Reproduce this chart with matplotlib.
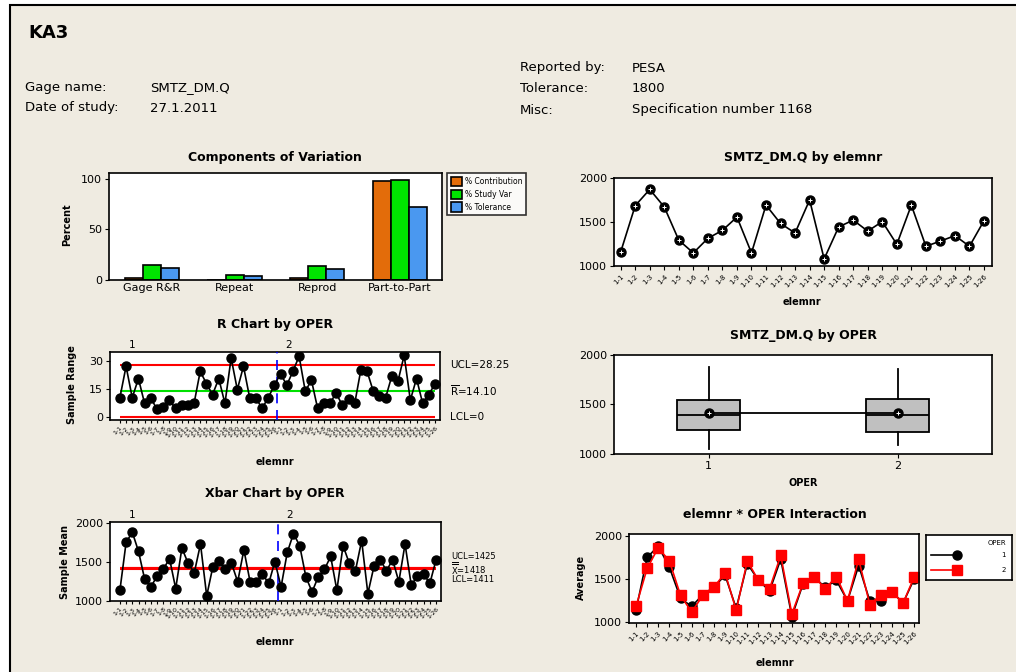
import numpy as np
import matplotlib.pyplot as plt
from matplotlib.patches import Rectangle
from matplotlib.lines import Line2D

# --- data -------------------------------------------------------------
components = ["Gage R&R", "Repeat", "Reprod", "Part-to-Part"]
pct_contribution = [2.3, 0.3, 2.0, 97.7]
pct_study_var = [15.2, 5.0, 14.3, 99.0]
pct_tolerance = [12.0, 3.9, 11.3, 72.0]

elemnr = [f"1-{i}" for i in range(1, 27)]

# part averages per operator
mean_oper1 = [1138, 1750, 1879, 1634, 1276, 1181, 1319, 1405, 1543, 1159, 1677, 1483, 1362,
              1728, 1065, 1440, 1517, 1405, 1483, 1246, 1655, 1246, 1246, 1345, 1224, 1504]
mean_oper2 = [1181, 1621, 1862, 1707, 1310, 1116, 1310, 1405, 1569, 1138, 1707, 1483, 1388,
              1772, 1095, 1448, 1526, 1388, 1526, 1246, 1728, 1203, 1319, 1345, 1224, 1526]

# sample ranges per operator
range_oper1 = [10.4, 27.3, 10.4, 20.7, 7.3, 10.4, 4.1, 5.5, 9.1, 4.6, 6.4, 6.4, 7.3,
               24.6, 18.0, 12.1, 20.7, 7.3, 31.8, 14.8, 27.3, 10.4, 10.4, 4.6, 10.4, 17.1]
range_oper2 = [23.4, 17.1, 24.6, 32.7, 13.9, 19.8, 4.6, 7.7, 7.7, 12.7, 6.4, 9.5, 7.3,
               25.5, 24.6, 13.9, 11.3, 10.4, 22.0, 19.3, 33.2, 9.1, 20.7, 7.3, 12.1, 18.0]

r_ucl, r_bar, r_lcl = 28.25, 14.10, 0.0
x_ucl, x_bar, x_lcl = 1425, 1418, 1411

# box plot summaries by operator
opers = ["1", "2"]
box_q1 = [1243, 1225]
box_med = [1394, 1394]
box_q3 = [1542, 1560]
box_lo = [1053, 1088]
box_hi = [1880, 1859]
box_mean = [1410, 1410]

# --- layout helpers (pixel coordinates, origin top-left) ---------------
W, H = 1016, 672
fig = plt.figure(figsize=(W / 100, H / 100), dpi=100)
fig.patch.set_facecolor("white")
plt.rcParams["font.family"] = ["DejaVu Sans"]

BG = "#EFEBE1"
fig.add_artist(Rectangle((10 / W, -0.1), 2, 1.1 - 5 / H, transform=fig.transFigure,
                         facecolor=BG, edgecolor="black", lw=1.5, zorder=-10))


def box(x0, y0, x1, y1):
    return fig.add_axes([x0 / W, 1 - y1 / H, (x1 - x0) / W, (y1 - y0) / H])


def ftext(x, y, s, **kw):
    kw.setdefault("va", "center")
    fig.text(x / W, 1 - y / H, s, **kw)


def style(ax):
    for sp in ax.spines.values():
        sp.set_linewidth(1.2)
    ax.tick_params(direction="out", length=3, width=0.8, labelsize=8, pad=2)


# --- header ------------------------------------------------------------
hfs = 9.5
ftext(28, 33, "KA3", fontsize=13, fontweight="bold")
ftext(25, 88, "Gage name:", fontsize=hfs)
ftext(150, 88, "SMTZ_DM.Q", fontsize=hfs)
ftext(25, 108, "Date of study:", fontsize=hfs)
ftext(150, 108, "27.1.2011", fontsize=hfs)
ftext(520, 68, "Reported by:", fontsize=hfs)
ftext(632, 68, "PESA", fontsize=hfs)
ftext(520, 89, "Tolerance:", fontsize=hfs)
ftext(632, 89, "1800", fontsize=hfs)
ftext(520, 110, "Misc:", fontsize=hfs)
ftext(632, 110, "Specification number 1168", fontsize=hfs)

tfs = 9

# --- components of variation --------------------------------------------
ax = box(109, 173, 442, 280)
style(ax)
xc = np.arange(len(components))
bw = 0.22
ax.bar(xc - bw, pct_contribution, bw, color="#E36C0A", edgecolor="black", lw=1.2, label="% Contribution")
ax.bar(xc, pct_study_var, bw, color="#00E400", edgecolor="black", lw=1.2, label="% Study Var")
ax.bar(xc + bw, pct_tolerance, bw, color="#4A98F0", edgecolor="black", lw=1.2, label="% Tolerance")
ax.set_xlim(-0.52, 3.51)
ax.set_ylim(0, 105.6)
ax.set_yticks([0, 50, 100])
ax.set_xticks(xc)
ax.set_xticklabels(components)
ax.tick_params(axis="x", length=0)
leg = ax.legend(loc="upper left", bbox_to_anchor=(1.015, 1.0), fontsize=5.5, frameon=True,
                fancybox=False, handlelength=1.4, handleheight=1.5, borderpad=0.5,
                labelspacing=0.45, handletextpad=0.4, borderaxespad=0)
leg.get_frame().set_edgecolor("black")
leg.get_frame().set_linewidth(1.2)
ftext(275, 157, "Components of Variation", fontsize=tfs, fontweight="bold", ha="center")
ftext(67, 225, "Percent", fontsize=7, fontweight="bold", rotation=90, ha="center")

# --- SMTZ_DM.Q by elemnr ------------------------------------------------
part_mean = (np.array(mean_oper1) + np.array(mean_oper2)) / 2
xp = np.arange(1, len(elemnr) + 1)
ax = box(614, 178, 992, 266)
style(ax)
ax.plot(xp, part_mean, color="black", lw=1.2, marker="o", ms=6.5)
ax.plot(xp, part_mean, ls="none", marker="+", ms=3.5, mew=0.7, color="white")
ax.set_xlim(0.54, 26.55)
ax.set_ylim(1000, 2000)
ax.set_yticks([1000, 1500, 2000])
ax.set_xticks(xp)
ax.set_xticklabels(elemnr, rotation=45, ha="right", rotation_mode="anchor", fontsize=5)
ftext(803, 157, "SMTZ_DM.Q by elemnr", fontsize=tfs, fontweight="bold", ha="center")
ftext(802, 302, "elemnr", fontsize=7, fontweight="bold", ha="center")

# --- R chart by OPER ----------------------------------------------------
n = len(elemnr)
xs = np.arange(1, 2 * n + 1)
ranges = range_oper1 + range_oper2
ax = box(110, 352, 440, 420)
style(ax)
ax.plot(xs, ranges, color="black", lw=1.2, marker="o", ms=6.5, zorder=4)
ax.hlines([r_ucl, r_lcl], 1, 2 * n, color="#FF0000", lw=1.5, zorder=2)
ax.hlines(r_bar, 1, 2 * n, color="#00E000", lw=1.5, zorder=2)
ax.axvline(n + 0.5, color="#0000FF", ls=(0, (6, 4)), lw=1.2, zorder=3)
ax.set_xlim(-0.6, 52.8)
ax.set_ylim(-1.6, 35)
ax.set_yticks([0, 15, 30])
ax.set_xticks(xs)
ax.set_xticklabels(elemnr + elemnr, rotation=45, ha="right", rotation_mode="anchor", fontsize=4.5)
ax.tick_params(axis="x", length=2)
ax.text(2.9, 1.03, "1", transform=ax.get_xaxis_transform(), fontsize=7.5, ha="center", va="bottom")
ax.text(28.3, 1.03, "2", transform=ax.get_xaxis_transform(), fontsize=7.5, ha="center", va="bottom")
ax.text(1.03, r_ucl, f"UCL={r_ucl:.2f}", transform=ax.get_yaxis_transform(), fontsize=7.5, va="center")
ax.text(1.03, r_bar, r"$\overline{\mathrm{R}}$" + f"={r_bar:.2f}", transform=ax.get_yaxis_transform(),
        fontsize=7.5, va="center")
ax.text(1.03, r_lcl, f"LCL={r_lcl:g}", transform=ax.get_yaxis_transform(), fontsize=7.5, va="center")
ftext(275, 324, "R Chart by OPER", fontsize=tfs, fontweight="bold", ha="center")
ftext(275, 462, "elemnr", fontsize=7, fontweight="bold", ha="center")
ftext(72, 385, "Sample Range", fontsize=7, fontweight="bold", rotation=90, ha="center")

# --- SMTZ_DM.Q by OPER (box plot) ---------------------------------------
stats = []
for i in range(len(opers)):
    stats.append(dict(med=box_med[i], q1=box_q1[i], q3=box_q3[i],
                      whislo=box_lo[i], whishi=box_hi[i], mean=box_mean[i], fliers=[]))
ax = box(614, 355, 992, 454)
style(ax)
ax.bxp(stats, positions=[1, 2], widths=0.33, patch_artist=True, showcaps=False,
       boxprops=dict(facecolor="#C0C0C0", edgecolor="black", lw=1.3),
       whiskerprops=dict(color="black", lw=1.3),
       medianprops=dict(color="black", lw=1.3))
ax.plot([1, 2], box_mean, color="black", lw=1.3, marker="o", ms=6.5, zorder=5)
ax.plot([1, 2], box_mean, ls="none", marker="+", ms=3.5, mew=0.7, color="white", zorder=6)
ax.set_xlim(0.5, 2.5)
ax.set_ylim(1000, 2000)
ax.set_yticks([1000, 1500, 2000])
ax.set_xticks([1, 2])
ax.set_xticklabels(opers)
ftext(803, 336, "SMTZ_DM.Q by OPER", fontsize=tfs, fontweight="bold", ha="center")
ftext(803, 483, "OPER", fontsize=7, fontweight="bold", ha="center")

# --- Xbar chart by OPER -------------------------------------------------
means = mean_oper1 + mean_oper2
ax = box(110, 522, 441, 601)
style(ax)
ax.plot(xs, means, color="black", lw=1.2, marker="o", ms=6.5, zorder=4)
ax.hlines([x_ucl, x_bar, x_lcl], 1, 2 * n, color="#FF0000", lw=1.5, zorder=2)
ax.axvline(n + 0.5, color="#0000FF", ls=(0, (6, 4)), lw=1.2, zorder=3)
ax.set_xlim(-0.6, 52.8)
ax.set_ylim(1000, 2010)
ax.set_yticks([1000, 1500, 2000])
ax.set_xticks(xs)
ax.set_xticklabels(elemnr + elemnr, rotation=45, ha="right", rotation_mode="anchor", fontsize=4.5)
ax.tick_params(axis="x", length=2)
ax.text(2.9, 1.03, "1", transform=ax.get_xaxis_transform(), fontsize=7.5, ha="center", va="bottom")
ax.text(28.3, 1.03, "2", transform=ax.get_xaxis_transform(), fontsize=7.5, ha="center", va="bottom")
# the three limits lie close together, so their labels are stacked
ytr = ax.get_yaxis_transform()
ax.annotate(f"UCL={x_ucl}", (1.03, x_ucl), xycoords=ytr, xytext=(0, 8), textcoords="offset points",
            fontsize=6, va="center")
ax.annotate(r"$\overline{\overline{\mathrm{X}}}$" + f"={x_bar}", (1.03, x_bar), xycoords=ytr,
            fontsize=6, va="center")
ax.annotate(f"LCL={x_lcl}", (1.03, x_lcl), xycoords=ytr, xytext=(0, -8), textcoords="offset points",
            fontsize=6, va="center")
ftext(275, 493, "Xbar Chart by OPER", fontsize=tfs, fontweight="bold", ha="center")
ftext(275, 642, "elemnr", fontsize=7, fontweight="bold", ha="center")
ftext(65, 562, "Sample Mean", fontsize=7, fontweight="bold", rotation=90, ha="center")

# --- elemnr * OPER interaction -------------------------------------------
ax = box(629, 534, 919, 623)
style(ax)
ax.plot(xp, mean_oper1, color="black", lw=1.2, marker="o", ms=6.5)
ax.plot(xp, mean_oper2, color="#FF0000", lw=1.2, marker="s", ms=6.5)
ax.set_xlim(0.37, 26.42)
ax.set_ylim(990, 2020)
ax.set_yticks([1000, 1500, 2000])
ax.set_xticks(xp)
ax.set_xticklabels(elemnr, rotation=45, ha="right", rotation_mode="anchor", fontsize=5)
ftext(775, 515, "elemnr * OPER Interaction", fontsize=tfs, fontweight="bold", ha="center")
ftext(775, 663, "elemnr", fontsize=7, fontweight="bold", ha="center")
ftext(581, 577, "Average", fontsize=7, fontweight="bold", rotation=90, ha="center")

# legend panel for the interaction plot
lg = box(926, 535, 1012, 580)
lg.set_xticks([])
lg.set_yticks([])
for sp in lg.spines.values():
    sp.set_linewidth(1.2)
lg.set_xlim(0, 1)
lg.set_ylim(0, 1)
lg.text(0.93, 0.82, "OPER", fontsize=5, ha="right", va="center")
lg.add_line(Line2D([0.06, 0.36], [0.55, 0.55], color="black", lw=1.2, marker="o",
                   ms=6.5, markevery=[1]))
lg.add_line(Line2D([0.06, 0.36], [0.23, 0.23], color="#FF0000", lw=1.2, marker="s",
                   ms=6.5, markevery=[1]))
lg.text(0.93, 0.55, "1", fontsize=5, ha="right", va="center")
lg.text(0.93, 0.23, "2", fontsize=5, ha="right", va="center")

fig.savefig("out.png", dpi=100, facecolor=fig.get_facecolor())
